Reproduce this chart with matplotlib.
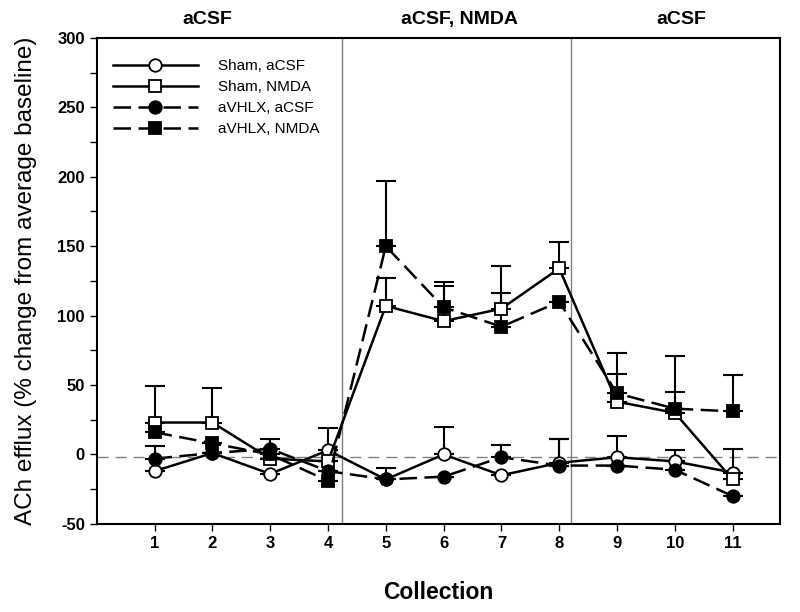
import matplotlib
matplotlib.use("Agg")
import matplotlib.pyplot as plt
import numpy as np

plt.rcParams['font.family'] = ['Liberation Sans', 'DejaVu Sans']
plt.rcParams['axes.unicode_minus'] = False

collection = [1, 2, 3, 4, 5, 6, 7, 8, 9, 10, 11]
sham_acsf = [-12, 1, -14, 3, -18, 0, -15, -6, -2, -5, -13]
sham_acsf_err = [0, 0, 0, 16, 0, 20, 0, 17, 15, 8, 0]
sham_nmda = [23, 23, -3, -5, 107, 96, 105, 134, 38, 30, -18]
sham_nmda_err = [26, 25, 0, 0, 20, 25, 31, 19, 35, 41, 22]
avhlx_acsf = [-3, 1, 4, -12, -18, -16, -2, -8, -8, -11, -30]
avhlx_acsf_err = [9, 0, 7, 0, 8, 0, 9, 19, 0, 0, 0]
avhlx_nmda = [16, 8, 0, -19, 150, 106, 92, 110, 44, 33, 31]
avhlx_nmda_err = [0, 0, 0, 0, 47, 18, 24, 0, 14, 12, 26]

phase_labels = ["aCSF", "aCSF, NMDA", "aCSF"]
phase_centers = [1.92, 6.27, 10.11]
phase_bounds = [4.25, 8.2]

fig = plt.figure(figsize=(8, 6.12), dpi=100)
ax = fig.add_axes([0.121, 0.144, 0.854, 0.794])

x = np.array(collection)
series = [
    (sham_acsf, sham_acsf_err, 'o', 'white', '-', "Sham, aCSF"),
    (sham_nmda, sham_nmda_err, 's', 'white', '-', "Sham, NMDA"),
    (avhlx_acsf, avhlx_acsf_err, 'o', 'black', (0, (7, 3)), "aVHLX, aCSF"),
    (avhlx_nmda, avhlx_nmda_err, 's', 'black', (0, (7, 3)), "aVHLX, NMDA"),
]
for vals, err, mk, fc, ls, lab in series:
    vals = np.array(vals, float)
    err = np.array(err, float)
    ax.errorbar(x, vals, yerr=[np.zeros_like(err), err], fmt='none',
                ecolor='black', elinewidth=1.5, capsize=7, capthick=1.5, zorder=2)
    ax.plot(x, vals, linestyle=ls, color='black', linewidth=1.8, marker=mk,
            markersize=9, markerfacecolor=fc, markeredgecolor='black',
            markeredgewidth=1.3, label=lab, zorder=3)

ax.axhline(-1.5, color='gray', linestyle=(0, (8, 5)), linewidth=1, zorder=1)
for b in phase_bounds:
    ax.axvline(b, color='gray', linewidth=1, zorder=1)

ax.set_xlim(0, 11.82)
ax.set_ylim(-50, 300)
ax.set_xticks(collection)
ax.set_yticks(np.arange(-50, 301, 50))
ax.set_yticks(np.arange(-50, 301, 25), minor=True)
ax.tick_params(axis='both', which='both', direction='out', length=5, width=1)
ax.tick_params(axis='x', which='both', top=False)
for lab in ax.get_xticklabels() + ax.get_yticklabels():
    lab.set_fontweight('bold')
    lab.set_fontsize(12)
for sp in ax.spines.values():
    sp.set_linewidth(1.5)

for c, t in zip(phase_centers, phase_labels):
    ax.text(c, 307, t, ha='center', va='bottom', fontsize=14, fontweight='bold')

ax.set_xlabel("Collection", fontsize=16.5, fontweight='bold', labelpad=22)
ax.set_ylabel("ACh efflux (% change from average baseline)", fontsize=17.5,
              fontweight='normal', labelpad=15)

leg = ax.legend(loc='upper left', frameon=False, fontsize=11, handlelength=5.6,
                handletextpad=1.3, markerscale=1.0,
                bbox_to_anchor=(0.003, 0.984), labelspacing=0.45)

fig.savefig("out.png", dpi=100)
